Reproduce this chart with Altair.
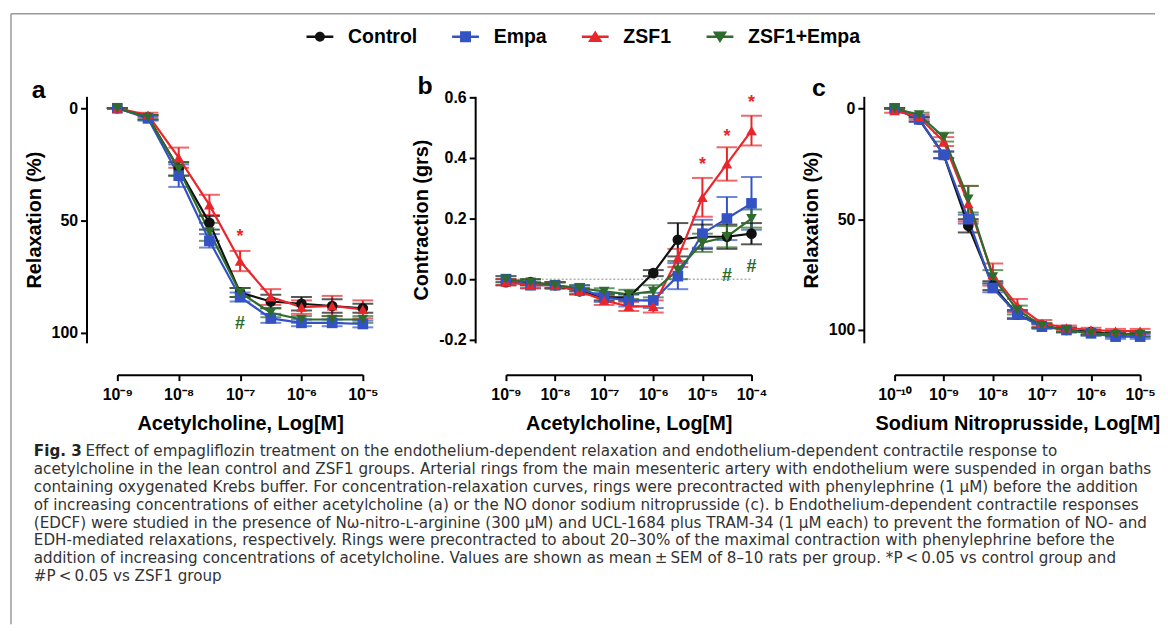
import altair as alt
import pandas as pd

groups = ["Control", "Empa", "ZSF1", "ZSF1+Empa"]
colors = ["#111111", "#3352c4", "#e8262c", "#2f6b2c"]
shapes = ["circle", "square", "triangle-up", "triangle-down"]
# legend symbols: a short line with the marker on it
legend_paths = [
    "M-2.7,-0.25H2.7V0.25H-2.7Z M-1.0,0A1.0,1.0,0,1,1,1.0,0A1.0,1.0,0,1,1,-1.0,0Z",
    "M-2.7,-0.25H2.7V0.25H-2.7Z M-1.1,-1.1H1.1V1.1H-1.1Z",
    "M-2.7,-0.25H2.7V0.25H-2.7Z M0,-1.25L1.45,1.05H-1.45Z",
    "M-2.7,-0.25H2.7V0.25H-2.7Z M-1.45,-1.05H1.45L0,1.25Z",
]

# ---------------- panel a : acetylcholine relaxation ----------------
a_x = [-9, -8.5, -8, -7.5, -7, -6.5, -6, -5.5, -5]
a_mean = {
    "Control":   [0, 4, 27, 51, 82, 86, 87, 88, 89],
    "Empa":      [0, 4.5, 30, 59, 84, 93.5, 95.5, 95.5, 96],
    "ZSF1":      [0, 3, 22, 43, 68, 84, 88.5, 88, 89.5],
    "ZSF1+Empa": [0, 4, 27, 55, 82, 91, 94, 94, 94],
}
a_sem = {
    "Control":   [0, 1, 3, 3, 2, 3, 3, 3, 2],
    "Empa":      [0, 1, 5, 3, 2, 2, 1.5, 1.5, 1.5],
    "ZSF1":      [0, 1, 4.5, 4.5, 4.5, 3.5, 3, 4.5, 4],
    "ZSF1+Empa": [0, 1, 3, 4, 2, 2, 1.5, 1.5, 1.5],
}
a_ann_x = [-7, -7]
a_ann_y = [56, 94.5]
a_ann_text = ["*", "#"]
a_ann_group = ["ZSF1", "ZSF1+Empa"]

# ---------------- panel b : acetylcholine contraction ----------------
b_x = [-9, -8.5, -8, -7.5, -7, -6.5, -6, -5.5, -5, -4.5, -4]
b_mean = {
    "Control":   [-0.01, -0.01, -0.02, -0.04, -0.06, -0.06, 0.02, 0.13, 0.14, 0.14, 0.15],
    "Empa":      [0.0, -0.02, -0.02, -0.03, -0.06, -0.07, -0.07, 0.01, 0.15, 0.20, 0.25],
    "ZSF1":      [-0.01, -0.02, -0.02, -0.04, -0.07, -0.09, -0.09, 0.07, 0.27, 0.38, 0.49],
    "ZSF1+Empa": [0.0, -0.01, -0.02, -0.03, -0.04, -0.05, -0.04, 0.03, 0.12, 0.14, 0.20],
}
b_sem = {
    "Control":   [0.01, 0.01, 0.01, 0.01, 0.01, 0.01, 0.01, 0.055, 0.04, 0.04, 0.035],
    "Empa":      [0.01, 0.01, 0.01, 0.01, 0.015, 0.02, 0.025, 0.043, 0.046, 0.071, 0.087],
    "ZSF1":      [0.01, 0.01, 0.01, 0.01, 0.015, 0.015, 0.02, 0.03, 0.064, 0.055, 0.049],
    "ZSF1+Empa": [0.01, 0.01, 0.01, 0.01, 0.01, 0.015, 0.02, 0.03, 0.03, 0.035, 0.03],
}
b_ann_x = [-5, -4.5, -4, -4.5, -4]
b_ann_y = [0.385, 0.48, 0.59, 0.02, 0.05]
b_ann_text = ["*", "*", "*", "#", "#"]
b_ann_group = ["ZSF1", "ZSF1", "ZSF1", "ZSF1+Empa", "ZSF1+Empa"]
b_zero_x = [-9]
b_zero_x2 = [-4]
b_zero_y = [0]

# ---------------- panel c : sodium nitroprusside relaxation ----------------
c_x = [-10, -9.5, -9, -8.5, -8, -7.5, -7, -6.5, -6, -5.5, -5]
c_mean = {
    "Control":   [0, 5, 21, 53, 80, 93, 98, 100, 101, 102, 102],
    "Empa":      [0, 5, 21, 50, 81, 93, 98.5, 100, 101.5, 103, 103],
    "ZSF1":      [1, 4, 15, 43, 75, 89, 97, 99, 100, 100.5, 100.5],
    "ZSF1+Empa": [0, 3, 13, 41, 76, 91, 98, 100, 101.5, 102, 102],
}
c_sem = {
    "Control":   [0, 1, 1.5, 3, 2, 2, 1, 1, 1, 1, 1],
    "Empa":      [0, 1, 1.5, 2, 2, 1.5, 1, 1, 1, 1, 1],
    "ZSF1":      [1, 1, 2, 8, 5, 3, 1.5, 1, 1, 1, 1],
    "ZSF1+Empa": [0, 1, 2, 6, 3, 2, 1, 1, 1, 1, 1],
}

sup = {"-10": "⁻¹⁰", "-9": "⁻⁹", "-8": "⁻⁸", "-7": "⁻⁷", "-6": "⁻⁶", "-5": "⁻⁵", "-4": "⁻⁴"}
a_ticks = [-9, -8, -7, -6, -5]
b_ticks = [-9, -8, -7, -6, -5, -4]
c_ticks = [-10, -9, -8, -7, -6, -5]
a_tick_labels = ["10" + sup[str(v)] for v in a_ticks]
b_tick_labels = ["10" + sup[str(v)] for v in b_ticks]
c_tick_labels = ["10" + sup[str(v)] for v in c_ticks]

caption_label = "Fig. 3"
caption_lines = [
    "Effect of empagliflozin treatment on the endothelium-dependent relaxation and endothelium-dependent contractile response to",
    "acetylcholine in the lean control and ZSF1 groups. Arterial rings from the main mesenteric artery with endothelium were suspended in organ baths",
    "containing oxygenated Krebs buffer. For concentration-relaxation curves, rings were precontracted with phenylephrine (1 µM) before the addition",
    "of increasing concentrations of either acetylcholine (a) or the NO donor sodium nitroprusside (c). b Endothelium-dependent contractile responses",
    "(EDCF) were studied in the presence of Nω-nitro-ʟ-arginine (300 µM) and UCL-1684 plus TRAM-34 (1 µM each) to prevent the formation of NO- and",
    "EDH-mediated relaxations, respectively. Rings were precontracted to about 20–30% of the maximal contraction with phenylephrine before the",
    "addition of increasing concentrations of acetylcholine. Values are shown as mean\u2009±\u2009SEM of 8–10 rats per group. *P\u2009<\u20090.05 vs control group and",
    "#P\u2009<\u20090.05 vs ZSF1 group",
]

BOLD = "Liberation Sans"
CAP_FONT = "DejaVu Sans"
CAP_SIZE = 15.25


def long_df(xs, means, sems):
    rows = []
    for g in groups:
        for x, m, s in zip(xs, means[g], sems[g]):
            rows.append({"group": g, "x": x, "y": m, "lo": m - s, "hi": m + s})
    return pd.DataFrame(rows)


def label_expr(vals, labels):
    expr = "''"
    for v, l in reversed(list(zip(vals, labels))):
        expr = f"datum.value == {v} ? '{l}' : ({expr})"
    return expr


color_enc = alt.Color("group:N", scale=alt.Scale(domain=groups, range=colors), legend=None)
shape_enc = alt.Shape("group:N", scale=alt.Scale(domain=groups, range=shapes), legend=None)
one_row = pd.DataFrame({"k": [0]})


def letter_layer(letter, dx, dy):
    return alt.Chart(one_row).mark_text(
        text=letter, font=BOLD, fontSize=25, fontWeight="bold", color="black",
        align="left", baseline="alphabetic").encode(x=alt.value(dx), y=alt.value(dy))


def data_layers(df, x_dom, ticks, tick_labels, x_title, y_dom, y_rev, y_ticks, y_label_expr, y_title,
                ann=None, zero=None):
    xs = alt.Scale(domain=x_dom, nice=False, zero=False)
    xa = alt.Axis(values=ticks, labelExpr=label_expr(ticks, tick_labels), title=x_title,
                  offset=32, labelFlush=False, labelOverlap=False, labelPadding=6, titlePadding=11)
    ys = alt.Scale(domain=y_dom, nice=False, zero=False, reverse=y_rev)
    ya = alt.Axis(values=y_ticks, labelExpr=y_label_expr, title=y_title, offset=31, titlePadding=7)

    def X(f):
        return alt.X(f, scale=xs, axis=xa)

    def Y(f):
        return alt.Y(f, scale=ys, axis=ya)

    base = alt.Chart(df)
    layers = []
    if zero is not None:
        layers.append(alt.Chart(zero).mark_rule(color="#888888", strokeWidth=1, strokeDash=[2, 2])
                      .encode(x=X("x:Q"), x2="x2:Q", y=Y("y:Q")))
    layers += [
        base.mark_rule(strokeWidth=2).encode(x=X("x:Q"), y=Y("lo:Q"), y2="hi:Q", color=color_enc),
        base.mark_tick(orient="horizontal", size=21, thickness=2).encode(x=X("x:Q"), y=Y("hi:Q"), color=color_enc),
        base.mark_tick(orient="horizontal", size=21, thickness=2).encode(x=X("x:Q"), y=Y("lo:Q"), color=color_enc),
        base.mark_line(strokeWidth=2.2).encode(x=X("x:Q"), y=Y("y:Q"), color=color_enc),
        base.mark_point(filled=True, size=115, opacity=1).encode(x=X("x:Q"), y=Y("y:Q"), color=color_enc, shape=shape_enc),
    ]
    if ann is not None:
        layers.append(alt.Chart(ann).mark_text(font=BOLD, fontSize=18, fontWeight="bold", baseline="middle", dy=3)
                      .encode(x=X("x:Q"), y=Y("y:Q"), text="text:N", color=color_enc))
    return alt.layer(*layers)


a_df = long_df(a_x, a_mean, a_sem)
b_df = long_df(b_x, b_mean, b_sem)
c_df = long_df(c_x, c_mean, c_sem)
a_ann = pd.DataFrame({"x": a_ann_x, "y": a_ann_y, "text": a_ann_text, "group": a_ann_group})
b_ann = pd.DataFrame({"x": b_ann_x, "y": b_ann_y, "text": b_ann_text, "group": b_ann_group})
b_zero = pd.DataFrame({"x": b_zero_x, "x2": b_zero_x2, "y": b_zero_y})

int_labels = "format(datum.value, 'd')"
dec_labels = "replace(format(datum.value, '.1f'), '\u2212', '-')"

a_data = data_layers(a_df, [-9, -5], a_ticks, a_tick_labels, "Acetylcholine, Log[M]",
                     [-5.3, 104.4], True, [0, 50, 100], int_labels, "Relaxation (%)", ann=a_ann)
b_data = data_layers(b_df, [-9, -4], b_ticks, b_tick_labels, "Acetylcholine, Log[M]",
                     [-0.21, 0.603], False, [-0.2, 0, 0.2, 0.4, 0.6], dec_labels, "Contraction (grs)",
                     ann=b_ann, zero=b_zero)
c_data = data_layers(c_df, [-10, -5], c_ticks, c_tick_labels, "Sodium Nitroprusside, Log[M]",
                     [-5.4, 105.8], True, [0, 50, 100], int_labels, "Relaxation (%)")

# ---------------- legend (owned by panel a) ----------------
legend_df = pd.DataFrame({"group": groups})
leg = alt.Legend(orient="none", legendX=194, legendY=-70, direction="horizontal", columns=4, title=None,
                 symbolSize=100, labelFont=BOLD, labelFontSize=19.6, labelFontWeight="bold",
                 labelColor="black", labelOffset=18.5, columnPadding=34.5, padding=0, symbolStrokeWidth=0)
legend_pts = alt.Chart(legend_df).transform_filter("datum.group == 'none'").mark_point(filled=True, opacity=1).encode(
    color=alt.Color("group:N", scale=alt.Scale(domain=groups, range=colors), legend=leg),
    shape=alt.Shape("group:N", scale=alt.Scale(domain=groups, range=legend_paths), legend=leg),
)

# ---------------- frame ----------------
frame_top = alt.Chart(one_row).mark_rule(color="#9a9a9a", strokeWidth=1.5).encode(
    x=alt.value(-107), x2=alt.value(1044), y=alt.value(-83))
frame_left = alt.Chart(one_row).mark_rule(color="#9a9a9a", strokeWidth=1.5).encode(
    x=alt.value(-107), y=alt.value(-83), y2=alt.value(531))

# ---------------- caption (below the panels) ----------------
cap_df = pd.DataFrame({"line": list(range(len(caption_lines))), "text": caption_lines})
lab_df = pd.DataFrame({"line": [0], "text": [caption_label]})
cap_y = alt.Y("line:Q", scale=alt.Scale(domain=[-19.83, -6.05], reverse=True, nice=False, zero=False), axis=None)
cap_rest = alt.Chart(cap_df).transform_filter("datum.line > 0").mark_text(
    align="left", baseline="middle", font=CAP_FONT, fontSize=CAP_SIZE, color="#333333").encode(
    x=alt.value(-84), y=cap_y, text="text:N")
cap_first = alt.Chart(cap_df).transform_filter("datum.line == 0").mark_text(
    align="left", baseline="middle", font=CAP_FONT, fontSize=CAP_SIZE, color="#333333", dx=52).encode(
    x=alt.value(-84), y=cap_y, text="text:N")
cap_label = alt.Chart(lab_df).mark_text(
    align="left", baseline="middle", font=CAP_FONT, fontSize=CAP_SIZE, fontWeight="bold", color="#222222").encode(
    x=alt.value(-84), y=cap_y, text="text:N")
caption = alt.layer(cap_rest, cap_first, cap_label)

pa = alt.layer(a_data, letter_layer("a", -86, 2), legend_pts, frame_top, frame_left, caption).resolve_scale(
    y="independent", color="independent", shape="independent").properties(width=247, height=248)
pb = alt.layer(b_data, letter_layer("b", -89, -2)).properties(width=247, height=248)
pc = alt.layer(c_data, letter_layer("c", -83, 0)).properties(width=247, height=248)

chart = alt.hconcat(pa, pb, pc, spacing=144, bounds="flush").resolve_scale(
    color="independent", shape="independent"
).properties(
    padding={"left": 2, "top": 3, "right": 0, "bottom": 0}
).configure_view(stroke=None).configure_axis(
    domainColor="black", domainWidth=2, tickColor="black", tickWidth=2, tickSize=6,
    labelFont=BOLD, labelFontSize=16, labelFontWeight="bold", labelColor="black", labelPadding=3,
    titleFont=BOLD, titleFontSize=20, titleFontWeight="bold", titleColor="black", grid=False,
)

chart.save("out.html", embed_options={"renderer": "svg", "actions": False})
